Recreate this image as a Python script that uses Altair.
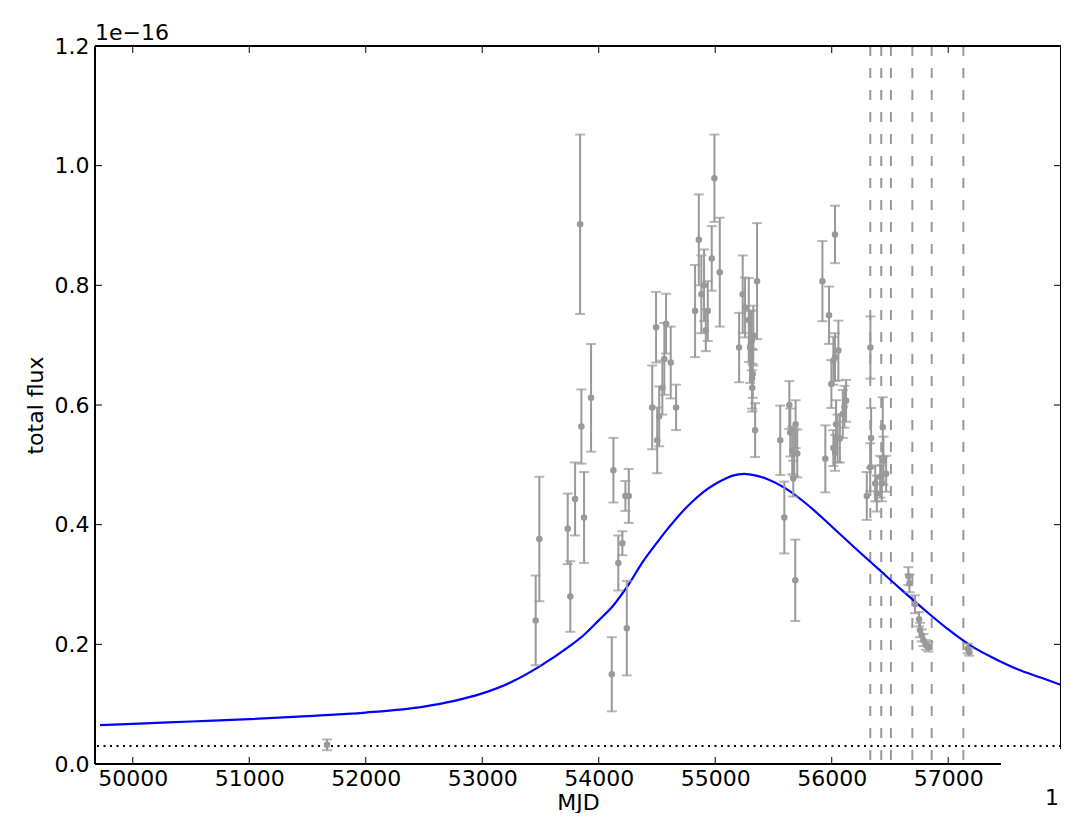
import altair as alt
import pandas as pd

# ---- data (flux in units of 1e-16) ----
mjd = [51668, 53459, 53490, 53734, 53756, 53797, 53840, 53851, 53874, 53934,
       54112, 54126, 54168, 54203, 54229, 54241, 54258,
       54459, 54492, 54502, 54519, 54546, 54563, 54578, 54618, 54664,
       54827, 54859, 54881, 54904, 54919, 54936, 54970, 54993, 55039,
       55205, 55236, 55256, 55288, 55299, 55313, 55316, 55322, 55318, 55327, 55359, 55342,
       55558, 55593, 55636, 55644, 55661, 55670, 55678, 55687, 55704, 55690,
       55920, 55945, 55977, 55997, 56014, 56028, 56028, 56057, 56037, 56050, 56070, 56014, 56028,
       56095, 56109, 56123,
       56301, 56332, 56338, 56330, 56373, 56387, 56416, 56430, 56438, 56444, 56467,
       56658, 56667, 56715, 56750, 56758, 56773, 56787, 56810, 56830, 57168, 57180]
flux = [0.032, 0.240, 0.376, 0.393, 0.280, 0.443, 0.902, 0.564, 0.412, 0.612,
        0.150, 0.491, 0.336, 0.369, 0.448, 0.227, 0.448,
        0.596, 0.730, 0.541, 0.581, 0.629, 0.677, 0.736, 0.671, 0.596,
        0.757, 0.876, 0.785, 0.800, 0.725, 0.757, 0.845, 0.979, 0.822,
        0.696, 0.785, 0.763, 0.742, 0.697, 0.708, 0.644, 0.652, 0.629, 0.716, 0.807, 0.558,
        0.541, 0.412, 0.600, 0.554, 0.524, 0.477, 0.521, 0.307, 0.519, 0.568,
        0.807, 0.510, 0.750, 0.635, 0.674, 0.885, 0.680, 0.691, 0.568, 0.544, 0.544, 0.528, 0.520,
        0.585, 0.597, 0.607,
        0.448, 0.696, 0.545, 0.496, 0.469, 0.452, 0.480, 0.469, 0.563, 0.507, 0.485,
        0.314, 0.302, 0.267, 0.242, 0.224, 0.215, 0.207, 0.199, 0.196, 0.193, 0.187]
err = [0.009, 0.075, 0.104, 0.059, 0.059, 0.061, 0.150, 0.062, 0.076, 0.090,
       0.062, 0.054, 0.046, 0.020, 0.025, 0.079, 0.045,
       0.070, 0.059, 0.055, 0.050, 0.045, 0.060, 0.050, 0.060, 0.038,
       0.077, 0.076, 0.065, 0.060, 0.035, 0.050, 0.054, 0.073, 0.091,
       0.058, 0.065, 0.050, 0.070, 0.060, 0.050, 0.050, 0.040, 0.040, 0.050, 0.097, 0.045,
       0.058, 0.060, 0.040, 0.040, 0.040, 0.030, 0.040, 0.068, 0.040, 0.040,
       0.067, 0.056, 0.048, 0.040, 0.040, 0.048, 0.040, 0.050, 0.040, 0.040, 0.040, 0.030, 0.030,
       0.040, 0.035, 0.035,
       0.040, 0.052, 0.050, 0.040, 0.030, 0.030, 0.035, 0.030, 0.050, 0.040, 0.030,
       0.015, 0.015, 0.015, 0.012, 0.012, 0.010, 0.010, 0.008, 0.008, 0.008, 0.006]

model_mjd = [49720, 50000, 50500, 51000, 51500, 52000, 52500, 52750, 53000, 53250,
             53500, 53750, 53875, 54000, 54125, 54250, 54375, 54500, 54600, 54700,
             54800, 54900, 55000, 55100, 55150, 55250, 55350, 55450, 55600, 55800,
             56000, 56200, 56400, 56600, 56800, 57000, 57200, 57400, 57600, 57800,
             57968]
model_flux = [0.065, 0.067, 0.071, 0.075, 0.080, 0.086, 0.096, 0.105, 0.118, 0.137,
              0.164, 0.197, 0.216, 0.240, 0.265, 0.298, 0.337, 0.370, 0.395, 0.418,
              0.438, 0.455, 0.468, 0.478, 0.482, 0.485, 0.482, 0.476, 0.461, 0.432,
              0.397, 0.361, 0.326, 0.291, 0.257, 0.225, 0.197, 0.176, 0.158, 0.144,
              0.132]

vline_mjd = [56331, 56425, 56508, 56692, 56858, 57130]
floor_flux = [0.03]

xticks = [50000, 51000, 52000, 53000, 54000, 55000, 56000, 57000]
yticks = [0.0, 0.2, 0.4, 0.6, 0.8, 1.0, 1.2]
x_domain = [49676, 57968]
y_domain = [0.0, 1.2]

# ---- layout ----
W, H = 966, 718
GRAY = "#999999"
FONT = "DejaVu Sans"
FS = 22

xs = alt.Scale(domain=x_domain, nice=False, zero=False)
ys = alt.Scale(domain=y_domain, nice=False, zero=False)

x_axis = alt.Axis(values=xticks, format="d", title="MJD", domain=False, ticks=False, grid=False,
                  labelPadding=4, labelFontSize=FS, labelFont=FONT, labelColor="black",
                  titleFontSize=FS, titleFont=FONT, titleFontWeight="normal", titleColor="black",
                  titleBaseline="alphabetic", titleY=45, labelFlush=False)
y_axis = alt.Axis(values=yticks, format=".1f", title="total flux", domain=False, ticks=False, grid=False,
                  labelPadding=6, labelFontSize=FS, labelFont=FONT, labelColor="black",
                  titleFontSize=FS, titleFont=FONT, titleFontWeight="normal", titleColor="black",
                  titleX=-60, titleY=H / 2, titleAlign="center", titleBaseline="middle",
                  titleAngle=270, labelFlush=False)


def X(f):
    return alt.X(f, scale=xs, axis=x_axis)


def Y(f):
    return alt.Y(f, scale=ys, axis=y_axis)


pts = pd.DataFrame({"mjd": mjd, "flux": flux,
                    "lo": [f - e for f, e in zip(flux, err)],
                    "hi": [f + e for f, e in zip(flux, err)]})
model = pd.DataFrame({"mjd": model_mjd, "flux": model_flux})
vlines = pd.DataFrame({"mjd": vline_mjd})
hline = pd.DataFrame({"flux": floor_flux})
xt = pd.DataFrame({"mjd": xticks})
yt = pd.DataFrame({"flux": yticks})
dummy = pd.DataFrame({"a": [0]})

layers = []
layers.append(alt.Chart(hline).mark_rule(color="black", strokeDash=[2, 4.5], strokeWidth=2)
              .encode(y=Y("flux:Q")))
layers.append(alt.Chart(vlines).mark_rule(color=GRAY, strokeDash=[10, 12], strokeWidth=2)
              .encode(x=X("mjd:Q")))
layers.append(alt.Chart(model).mark_line(color="#0000ff", strokeWidth=2.2, interpolate="monotone")
              .encode(x=X("mjd:Q"), y=Y("flux:Q")))
layers.append(alt.Chart(pts).mark_rule(color=GRAY, strokeWidth=2)
              .encode(x=X("mjd:Q"), y=Y("lo:Q"), y2="hi:Q"))
layers.append(alt.Chart(pts).mark_tick(color=GRAY, orient="horizontal", size=10, thickness=2)
              .encode(x=X("mjd:Q"), y=Y("lo:Q")))
layers.append(alt.Chart(pts).mark_tick(color=GRAY, orient="horizontal", size=10, thickness=2)
              .encode(x=X("mjd:Q"), y=Y("hi:Q")))
layers.append(alt.Chart(pts).mark_circle(color=GRAY, size=42, opacity=1)
              .encode(x=X("mjd:Q"), y=Y("flux:Q")))

# inward ticks
layers.append(alt.Chart(xt).mark_rule(color="black", strokeWidth=1)
              .encode(x=X("mjd:Q"), y=alt.value(H), y2=alt.value(H - 7)))
layers.append(alt.Chart(xt).mark_rule(color="black", strokeWidth=1)
              .encode(x=X("mjd:Q"), y=alt.value(0), y2=alt.value(7)))
layers.append(alt.Chart(yt).mark_rule(color="black", strokeWidth=1)
              .encode(y=Y("flux:Q"), x=alt.value(0), x2=alt.value(7)))
layers.append(alt.Chart(yt[yt["flux"] > 0]).mark_rule(color="black", strokeWidth=1)
              .encode(y=Y("flux:Q"), x=alt.value(W), x2=alt.value(W - 7)))

# spines (partially broken frame as in the reference)
layers.append(alt.Chart(dummy).mark_rule(color="black", strokeWidth=2)
              .encode(x=alt.value(0), y=alt.value(0), y2=alt.value(H)))
layers.append(alt.Chart(dummy).mark_rule(color="black", strokeWidth=2)
              .encode(y=alt.value(0), x=alt.value(0), x2=alt.value(W)))
layers.append(alt.Chart(dummy).mark_rule(color="black", strokeWidth=2)
              .encode(x=alt.value(W), y=alt.value(0), y2=alt.value(703)))
layers.append(alt.Chart(dummy).mark_rule(color="black", strokeWidth=2)
              .encode(y=alt.value(H), x=alt.value(0), x2=alt.value(906)))

# offset text and stray label
layers.append(alt.Chart(dummy).mark_text(text="1e\u221216", align="left", baseline="alphabetic",
                                         fontSize=FS, font=FONT, color="black")
              .encode(x=alt.value(0), y=alt.value(-6)))
layers.append(alt.Chart(dummy).mark_text(text="1", align="right", baseline="alphabetic",
                                         fontSize=FS, font=FONT, color="black")
              .encode(x=alt.value(W - 2), y=alt.value(759)))

chart = alt.layer(*layers).properties(
    width=W, height=H,
    autosize=alt.AutoSizeParams(type="none"),
    padding={"left": 87, "top": 38, "right": 0, "bottom": 49},
    background="white",
).configure_view(stroke=None)

chart.save("out.html", embed_options={"renderer": "svg", "actions": False})
